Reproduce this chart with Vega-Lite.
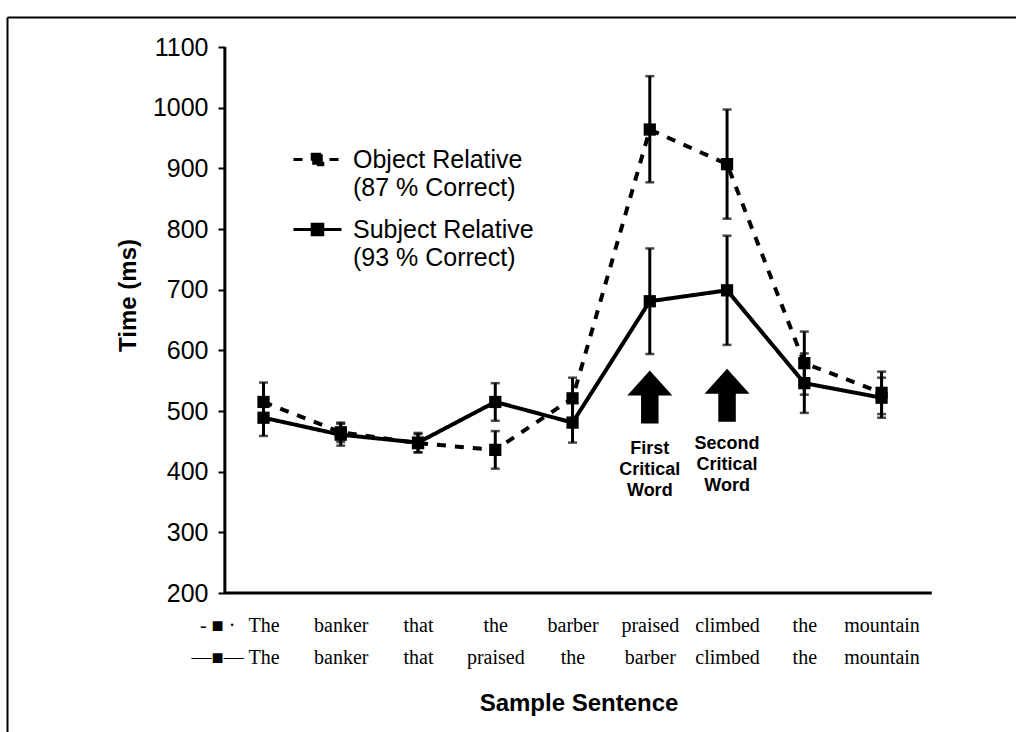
{
  "$schema": "https://vega.github.io/schema/vega-lite/v6.json",
  "width": 1009,
  "height": 715,
  "autosize": {"type": "none"},
  "padding": {"left": 7, "top": 17, "right": 0, "bottom": 0},
  "background": "white",
  "config": {"view": {"stroke": null}, "font": "Liberation Sans"},
  "datasets": {
    "rt": [
      {"pos": 1, "series": "Object Relative", "time": 515, "lo": 483, "hi": 547},
      {"pos": 2, "series": "Object Relative", "time": 465, "lo": 449, "hi": 481},
      {"pos": 3, "series": "Object Relative", "time": 447, "lo": 432, "hi": 462},
      {"pos": 4, "series": "Object Relative", "time": 436, "lo": 405, "hi": 467},
      {"pos": 5, "series": "Object Relative", "time": 521, "lo": 487, "hi": 555},
      {"pos": 6, "series": "Object Relative", "time": 964, "lo": 877, "hi": 1052},
      {"pos": 7, "series": "Object Relative", "time": 907, "lo": 817, "hi": 997},
      {"pos": 8, "series": "Object Relative", "time": 579, "lo": 527, "hi": 631},
      {"pos": 9, "series": "Object Relative", "time": 530, "lo": 495, "hi": 565},
      {"pos": 1, "series": "Subject Relative", "time": 489, "lo": 459, "hi": 519},
      {"pos": 2, "series": "Subject Relative", "time": 461, "lo": 443, "hi": 479},
      {"pos": 3, "series": "Subject Relative", "time": 448, "lo": 432, "hi": 464},
      {"pos": 4, "series": "Subject Relative", "time": 515, "lo": 484, "hi": 546},
      {"pos": 5, "series": "Subject Relative", "time": 481, "lo": 448, "hi": 514},
      {"pos": 6, "series": "Subject Relative", "time": 681, "lo": 594, "hi": 768},
      {"pos": 7, "series": "Subject Relative", "time": 699, "lo": 609, "hi": 789},
      {"pos": 8, "series": "Subject Relative", "time": 546, "lo": 497, "hi": 595},
      {"pos": 9, "series": "Subject Relative", "time": 522, "lo": 489, "hi": 555}
    ],
    "one": [{}],
    "arrows": [
      {"pos": 6, "time": 523},
      {"pos": 7, "time": 526}
    ],
    "notes": [
      {"pos": 6, "time": 453, "label": "First\nCritical\nWord"},
      {"pos": 7, "time": 460, "label": "Second\nCritical\nWord"}
    ]
  },
  "layer": [
    {
      "data": {"name": "rt"},
      "mark": {"type": "line", "color": "black", "strokeWidth": 4},
      "encoding": {
        "x": {
          "field": "pos", "type": "quantitative",
          "scale": {"domain": [-2.32, 10.74], "nice": false, "zero": false},
          "axis": {
            "orient": "bottom", "offset": -139, "domain": false, "ticks": false, "tickSize": 0,
            "values": [-2.32, 0.4, 1, 2, 3, 4, 5, 6, 7, 8, 9],
            "grid": true, "gridColor": "black", "gridWidth": 2,
            "gridOpacity": {"condition": {"test": "datum.value < -2", "value": 1}, "value": 0},
            "labelExpr": "datum.value < -2 ? '' : datum.value < 0.9 ? ['- ■ ·', '—■—'] : [['The','The'],['banker','banker'],['that','that'],['the','praised'],['barber','the'],['praised','barber'],['climbed','climbed'],['the','the'],['mountain','mountain']][round(datum.value) - 1]",
            "labelFont": "Liberation Serif", "labelFontSize": 20, "labelColor": "black",
            "labelLineHeight": 32, "labelBaseline": "top", "labelPadding": 22, "labelAlign": "center",
            "labelOverlap": false, "labelFlush": false, "labelBound": false,
            "title": "Sample Sentence", "titleFont": "Liberation Sans", "titleFontSize": 24, "titleFontWeight": "bold",
            "titleColor": "black", "titleX": 571.5, "titleY": 110, "titleBaseline": "middle", "titleAlign": "center"
          }
        },
        "y": {
          "field": "time", "type": "quantitative",
          "scale": {"domain": [-29, 1149.5], "nice": false, "zero": false},
          "axis": {
            "orient": "left", "offset": -218, "domain": false,
            "values": [200, 300, 400, 500, 600, 700, 800, 900, 1000, 1100, 1149.5],
            "format": "d",
            "grid": true, "gridColor": "black", "gridWidth": 2,
            "gridOpacity": {"condition": {"test": "datum.value > 1140", "value": 1}, "value": 0},
            "ticks": true, "tickSize": 7, "tickWidth": 2, "tickColor": "black",
            "tickOpacity": {"condition": {"test": "datum.value > 1140", "value": 0}, "value": 1},
            "labelExpr": "datum.value > 1140 ? '' : datum.label",
            "labelFont": "Liberation Sans", "labelFontSize": 25, "labelColor": "black", "labelPadding": 10,
            "labelOverlap": false, "labelFlush": false,
            "title": "Time (ms)", "titleFont": "Liberation Sans", "titleFontSize": 24, "titleFontWeight": "bold",
            "titleColor": "black", "titleX": -97, "titleY": 278, "titleAngle": 270, "titleBaseline": "middle", "titleAlign": "center"
          }
        },
        "strokeDash": {
          "field": "series", "type": "nominal",
          "scale": {"domain": ["Object Relative", "Subject Relative"], "range": [[9, 9], [1, 0]]},
          "legend": {
            "orient": "none", "legendX": 285, "legendY": 117, "title": null, "padding": 0,
            "symbolType": "M-1,0H1M-0.22,-0.22H0.22V0.22H-0.22Z", "symbolSize": 2304,
            "symbolStrokeWidth": 3, "symbolStrokeColor": "black",
            "labelFont": "Liberation Sans", "labelFontSize": 25, "labelColor": "black",
            "labelOffset": 10, "labelLimit": 0, "rowPadding": 3,
            "labelBaseline": "middle",
            "labelExpr": "datum.label == 'Object Relative' ? ['Object Relative', '(87 % Correct)'] : ['Subject Relative', '(93 % Correct)']",
            "encode": {
              "symbols": {"update": {"fill": {"value": "black"}, "stroke": {"value": "black"}}},
              "labels": {"update": {"lineHeight": {"value": 28}}}
            }
          }
        }
      }
    },
    {
      "data": {"name": "one"},
      "mark": {"type": "rule", "color": "black", "strokeWidth": 3},
      "encoding": {
        "x": {"datum": 0.5, "type": "quantitative", "scale": {"domain": [-2.32, 10.74], "nice": false, "zero": false}},
        "y": {"datum": 200, "type": "quantitative", "scale": {"domain": [-29, 1149.5], "nice": false, "zero": false}},
        "y2": {"datum": 1100}
      }
    },
    {
      "data": {"name": "one"},
      "mark": {"type": "rule", "color": "black", "strokeWidth": 3},
      "encoding": {
        "x": {"datum": 0.5, "type": "quantitative", "scale": {"domain": [-2.32, 10.74], "nice": false, "zero": false}},
        "x2": {"datum": 9.65},
        "y": {"datum": 200, "type": "quantitative", "scale": {"domain": [-29, 1149.5], "nice": false, "zero": false}}
      }
    },
    {
      "data": {"name": "rt"},
      "mark": {"type": "rule", "color": "black", "strokeWidth": 3},
      "encoding": {
        "x": {"field": "pos", "type": "quantitative", "scale": {"domain": [-2.32, 10.74], "nice": false, "zero": false}},
        "y": {"field": "lo", "type": "quantitative", "scale": {"domain": [-29, 1149.5], "nice": false, "zero": false}},
        "y2": {"field": "hi"}
      }
    },
    {
      "data": {"name": "rt"},
      "mark": {"type": "tick", "orient": "horizontal", "color": "black", "size": 9, "thickness": 2.5},
      "encoding": {
        "x": {"field": "pos", "type": "quantitative", "scale": {"domain": [-2.32, 10.74], "nice": false, "zero": false}},
        "y": {"field": "lo", "type": "quantitative", "scale": {"domain": [-29, 1149.5], "nice": false, "zero": false}}
      }
    },
    {
      "data": {"name": "rt"},
      "mark": {"type": "tick", "orient": "horizontal", "color": "black", "size": 9, "thickness": 2.5},
      "encoding": {
        "x": {"field": "pos", "type": "quantitative", "scale": {"domain": [-2.32, 10.74], "nice": false, "zero": false}},
        "y": {"field": "hi", "type": "quantitative", "scale": {"domain": [-29, 1149.5], "nice": false, "zero": false}}
      }
    },
    {
      "data": {"name": "rt"},
      "mark": {"type": "point", "shape": "square", "filled": true, "color": "black", "size": 150, "opacity": 1},
      "encoding": {
        "x": {"field": "pos", "type": "quantitative", "scale": {"domain": [-2.32, 10.74], "nice": false, "zero": false}},
        "y": {"field": "time", "type": "quantitative", "scale": {"domain": [-29, 1149.5], "nice": false, "zero": false}}
      }
    },
    {
      "data": {"name": "arrows"},
      "mark": {"type": "point", "shape": "M0,-1L0.85,-0.06L0.33,-0.06L0.33,1L-0.33,1L-0.33,-0.06L-0.85,-0.06Z", "filled": true, "color": "black", "size": 2809, "opacity": 1, "strokeWidth": 0},
      "encoding": {
        "x": {"field": "pos", "type": "quantitative", "scale": {"domain": [-2.32, 10.74], "nice": false, "zero": false}},
        "y": {"field": "time", "type": "quantitative", "scale": {"domain": [-29, 1149.5], "nice": false, "zero": false}}
      }
    },
    {
      "data": {"name": "notes"},
      "mark": {"type": "text", "font": "Liberation Sans", "fontWeight": "bold", "fontSize": 18, "lineHeight": 21, "lineBreak": "\n", "align": "center", "baseline": "top", "color": "black"},
      "encoding": {
        "x": {"field": "pos", "type": "quantitative", "scale": {"domain": [-2.32, 10.74], "nice": false, "zero": false}},
        "y": {"field": "time", "type": "quantitative", "scale": {"domain": [-29, 1149.5], "nice": false, "zero": false}},
        "text": {"field": "label"}
      }
    }
  ]
}
